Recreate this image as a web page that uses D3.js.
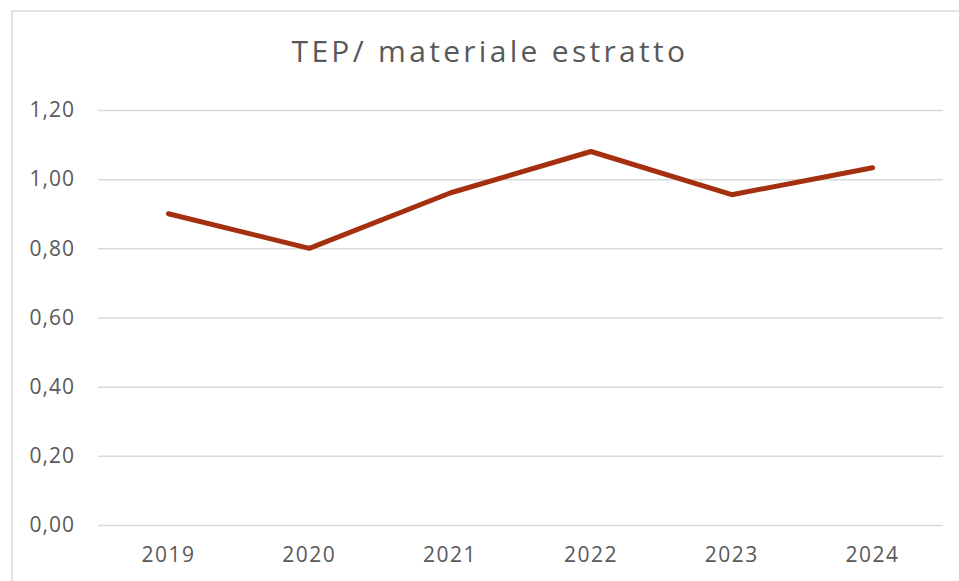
<!DOCTYPE html>
<html>
<head>
<meta charset="utf-8">
<script src="https://cdn.jsdelivr.net/npm/d3@7"></script>
<style>
  body { margin: 0; background: #fff; }
  text { font-family: "Open Sans", "DejaVu Sans", sans-serif; fill: #595959; }
</style>
</head>
<body>
<div id="chart"></div>
<script>
const years = ["2019", "2020", "2021", "2022", "2023", "2024"];
const values = [0.90, 0.80, 0.96, 1.08, 0.955, 1.033];
const yTicks = [0, 0.2, 0.4, 0.6, 0.8, 1.0, 1.2];
const title = "TEP/ materiale estratto";

const W = 959, H = 581;
const margin = { top: 110, right: 16, bottom: 56, left: 98 };

const svg = d3.select("#chart")
  .append("svg")
  .attr("width", W)
  .attr("height", H);

// chart frame (cut by the window on the right and bottom)
svg.append("rect")
  .attr("x", 12).attr("y", 11)
  .attr("width", W + 20).attr("height", H + 20)
  .attr("fill", "none")
  .attr("stroke", "#d9d9d9")
  .attr("stroke-width", 1.5);

const x = d3.scaleBand().domain(years).range([margin.left, W - margin.right]);
const y = d3.scaleLinear().domain([0, 1.2]).range([H - margin.bottom, margin.top]);

const fmt = d => d3.format(".2f")(d).replace(".", ",");

// grid + y labels
const yAxis = svg.append("g")
  .attr("transform", `translate(${margin.left},0)`)
  .call(d3.axisLeft(y).tickValues(yTicks).tickFormat(fmt)
    .tickSize(-(W - margin.right - margin.left)).tickPadding(23));
yAxis.select(".domain").remove();
yAxis.selectAll(".tick line").attr("stroke", "#d9d9d9").attr("stroke-width", 1.5);
yAxis.selectAll(".tick text")
  .attr("fill", "#595959")
  .style("font-size", "21px")
  .style("letter-spacing", "1px");

// x labels
const xAxis = svg.append("g")
  .attr("transform", `translate(0,${H - margin.bottom})`)
  .call(d3.axisBottom(x).tickSize(0).tickPadding(22));
xAxis.select(".domain").remove();
xAxis.selectAll(".tick text")
  .attr("fill", "#595959")
  .style("font-size", "21px")
  .style("letter-spacing", "1.5px");

// line
const line = d3.line()
  .x((d, i) => x(years[i]) + x.bandwidth() / 2)
  .y(d => y(d));

svg.append("path")
  .datum(values)
  .attr("fill", "none")
  .attr("stroke", "#a5300f")
  .attr("stroke-width", 5)
  .attr("stroke-linecap", "round")
  .attr("stroke-linejoin", "round")
  .attr("d", line);

// title
svg.append("text")
  .attr("x", 490).attr("y", 62)
  .attr("text-anchor", "middle")
  .style("font-size", "30px")
  .style("letter-spacing", "3.3px")
  .text(title);
</script>
</body>
</html>
